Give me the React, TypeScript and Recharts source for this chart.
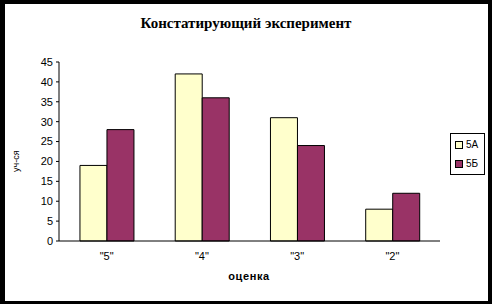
import { BarChart, Bar, XAxis, YAxis } from 'recharts';

const categories = ['"5"', '"4"', '"3"', '"2"'];
const class5A = [19, 42, 31, 8];
const class5B = [28, 36, 24, 12];
const yTicks = [0, 5, 10, 15, 20, 25, 30, 35, 40, 45];
const bandTicks = [0, 1, 2, 3, 4];
const seriesNames = ['5А', '5Б'];
const seriesColors = ['#FFFFCC', '#993366'];

const data = categories.map((name, i) => ({
  name,
  idx: i + 0.5,
  '5А': class5A[i],
  '5Б': class5B[i],
}));

const font = '"Liberation Sans", Arial, sans-serif';

function LegendBox() {
  return (
    <div
      style={{
        position: 'absolute',
        left: 450,
        top: 133,
        width: 25,
        border: '1px solid #000',
        background: '#fff',
        padding: '1px 4px 1px 4px',
        fontFamily: font,
        fontSize: 10,
        color: '#000',
      }}
    >
      {seriesNames.map((n, i) => (
        <div key={n} style={{ display: 'flex', alignItems: 'center', height: 19 }}>
          <span
            style={{
              display: 'inline-block',
              width: 6,
              height: 6,
              border: '1px solid #000',
              background: seriesColors[i],
              marginRight: 3,
            }}
          />
          {n}
        </div>
      ))}
    </div>
  );
}

export default function App() {
  return (
    <div style={{ position: 'fixed', left: 0, top: 0, width: 492, height: 304, background: '#000' }}>
      <div style={{ position: 'absolute', left: 5, top: 4, width: 483, height: 297, background: '#fff' }} />
      <div
        style={{
          position: 'absolute',
          left: 0,
          top: 15,
          width: 492,
          textAlign: 'center',
          fontFamily: '"Liberation Serif", "Times New Roman", serif',
          fontWeight: 'bold',
          fontSize: 15,
          color: '#000',
        }}
      >
        Констатирующий эксперимент
      </div>
      <div
        style={{
          position: 'absolute',
          left: 0,
          top: 270,
          width: 498,
          textAlign: 'center',
          fontFamily: font,
          fontWeight: 'bold',
          fontSize: 11,
          letterSpacing: 0.6,
          color: '#000',
        }}
      >
        оценка
      </div>
      <div
        style={{
          position: 'absolute',
          left: 11,
          top: 172,
          transform: 'rotate(-90deg)',
          transformOrigin: 'left top',
          fontFamily: font,
          fontSize: 9,
          color: '#000',
          whiteSpace: 'nowrap',
        }}
      >
        уч-ся
      </div>
      <div style={{ position: 'absolute', left: 0, top: 0 }}>
        <BarChart
          width={492}
          height={304}
          data={data}
          margin={{ top: 62, right: 52, bottom: 33, left: 19 }}
          barCategoryGap="22%"
          barGap={0}
        >
          <XAxis
            xAxisId="band"
            dataKey="idx"
            type="number"
            domain={[0, 4]}
            ticks={bandTicks}
            height={0}
            axisLine={false}
            tickSize={4}
            tick={{ fontSize: 0 }}
            tickLine={{ stroke: '#000' }}
          />
          <XAxis
            dataKey="name"
            height={30}
            axisLine={{ stroke: '#000' }}
            tickLine={false}
            tickSize={6}
            tickMargin={5}
            tick={{ fill: '#000', fontSize: 11, fontFamily: font }}
          />
          <YAxis
            domain={[0, 45]}
            ticks={yTicks}
            width={40}
            interval={0}
            axisLine={{ stroke: '#000' }}
            tickLine={{ stroke: '#000' }}
            tickSize={3}
            tickMargin={3}
            tick={{ fill: '#000', fontSize: 11, fontFamily: font }}
          />
          <Bar dataKey="5А" fill={seriesColors[0]} stroke="#000" strokeWidth={1} isAnimationActive={false} />
          <Bar dataKey="5Б" fill={seriesColors[1]} stroke="#000" strokeWidth={1} isAnimationActive={false} />
        </BarChart>
      </div>
      <LegendBox />
    </div>
  );
}
